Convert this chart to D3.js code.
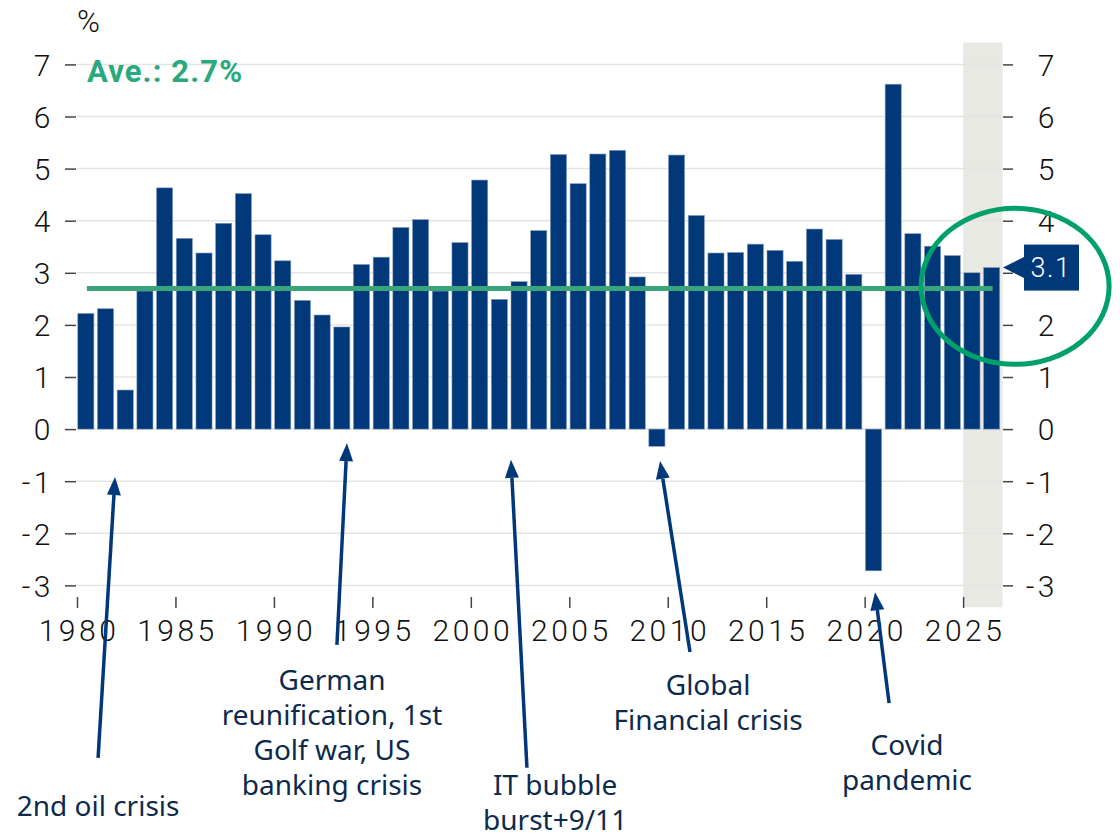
<!DOCTYPE html>
<html>
<head>
<meta charset="utf-8">
<script src="https://cdn.jsdelivr.net/npm/d3@7"></script>
<style>
    body { margin: 0; background: #fff; }
    svg { display: block; }
    .tick text { font-family: Roboto, sans-serif; font-weight: 300; font-size: 30px; fill: #111; letter-spacing: 3.5px; }
    .note { font-family: "Noto Sans", sans-serif; font-size: 28px; fill: #0d2a4d; }
</style>
</head>
<body>
<svg class="chart"></svg>
<script>
// GDP growth, % y/y (2025-2026 forecast)
const years = d3.range(1980, 2027);
const growth = [
    2.22, 2.31, 0.75, 2.65, 4.63, 3.66, 3.38, 3.95, 4.52, 3.73,
    3.23, 2.47, 2.19, 1.96, 3.16, 3.30, 3.87, 4.02, 2.65, 3.58,
    4.78, 2.49, 2.83, 3.81, 5.27, 4.71, 5.28, 5.35, 2.92, -0.33,
    5.26, 4.10, 3.38, 3.39, 3.55, 3.43, 3.22, 3.84, 3.64, 2.97,
    -2.72, 6.62, 3.75, 3.51, 3.33, 3.00, 3.10
];
const average = 2.7;
const yTicks = [-3, -2, -1, 0, 1, 2, 3, 4, 5, 6, 7];
const xTicks = [1980, 1985, 1990, 1995, 2000, 2005, 2010, 2015, 2020, 2025];
const forecastStart = 2025;

// events: arrow tip / foot in (year, value) units, text centre year
const notes = [
    {lines: ["2nd oil crisis"], tip: [1981.93, -0.92], foot: [1981.07, -6.31], at: 1981.07, top: 816},
    {lines: ["German", "reunification, 1st", "Golf war, US", "banking crisis"], tip: [1993.71, -0.27], foot: [1993.2, -4.14], at: 1992.95, top: 690},
    {lines: ["IT bubble", "burst+9/11"], tip: [2002.04, -0.59], foot: [2002.85, -6.5], at: 2004.28, top: 795},
    {lines: ["Global", "Financial crisis"], tip: [2009.61, -0.61], foot: [2011.13, -4.28], at: 2012.05, top: 695},
    {lines: ["Covid", "pandemic"], tip: [2020.53, -3.13], foot: [2021.24, -5.26], at: 2022.15, top: 755}
];

const data = years.map(function(d, i) { return {year: d, value: growth[i]}; });

let width = 1120,
    height = 836,
    navy = "#00387a",
    green = "#3aa57a";

let x = d3.scaleLinear().domain([1980, 2027]).range([77, 1002.5]);
let y = d3.scaleLinear().domain([-3, 7]).range([585.4, 64.4]);
let step = x(1981) - x(1980);

let chart = d3.select(".chart")
    .attr("width", width)
    .attr("height", height);

// forecast band
chart.append("rect")
    .attr("x", x(forecastStart))
    .attr("y", y(7.42))
    .attr("width", x(2027) - x(forecastStart))
    .attr("height", y(-3.42) - y(7.42))
    .attr("fill", "#e9e9e4");

// grid
chart.append("g")
    .selectAll("line")
    .data(yTicks)
    .enter().append("line")
    .attr("x1", x(1980))
    .attr("x2", x(2027))
    .attr("y1", function(d) { return y(d); })
    .attr("y2", function(d) { return y(d); })
    .attr("stroke", "#e4e4e4")
    .attr("stroke-width", 1.5);

// axes
let plain = function(d) { return String(d); };
let left = chart.append("g")
    .attr("transform", "translate(76,0)")
    .call(d3.axisLeft(y).tickValues(yTicks).tickFormat(plain).tickSize(11).tickPadding(11));
let right = chart.append("g")
    .attr("transform", "translate(1003,0)")
    .call(d3.axisRight(y).tickValues(yTicks).tickFormat(plain).tickSize(10).tickPadding(12));
right.selectAll("text").attr("text-anchor", "end").attr("x", 55);
let bottom = chart.append("g")
    .attr("transform", "translate(0,597)")
    .call(d3.axisBottom(x).tickValues(xTicks).tickFormat(plain).tickSize(11).tickPadding(12));
[left, right, bottom].forEach(function(g) {
    g.select(".domain").remove();
    g.selectAll(".tick line").attr("stroke", "#444").attr("stroke-width", 1.5);
});
[left, right].forEach(function(g) {
    g.selectAll(".tick text").attr("dy", "0.36em");
});
bottom.selectAll(".tick text").attr("dx", "1.5");

// bars
chart.append("g")
    .selectAll("rect")
    .data(data)
    .enter().append("rect")
    .attr("x", function(d) { return x(d.year) + 0.8; })
    .attr("width", step - 3.6)
    .attr("y", function(d) { return y(Math.max(0, d.value)); })
    .attr("height", function(d) { return Math.abs(y(d.value) - y(0)); })
    .attr("fill", navy)
    .attr("stroke", "#7f98bb")
    .attr("stroke-width", 0.6);

// average line
chart.append("line")
    .attr("x1", x(1980.5))
    .attr("x2", x(2026.5))
    .attr("y1", y(average))
    .attr("y2", y(average))
    .attr("stroke", green)
    .attr("stroke-width", 5);

chart.append("text")
    .attr("x", 87)
    .attr("y", 82)
    .attr("font-family", "Roboto, sans-serif")
    .attr("font-weight", 700)
    .attr("font-size", 31)
    .attr("letter-spacing", 1.1)
    .attr("fill", "#2aa87e")
    .text("Ave.: " + average + "%");

chart.append("text")
    .attr("x", 77)
    .attr("y", 32)
    .attr("font-family", "Roboto, sans-serif")
    .attr("font-weight", 300)
    .attr("font-size", 31)
    .attr("fill", "#111")
    .text("%");

// last value callout (covers the right-hand "3" label, as in the original)
let last = data[data.length - 1];
let ly = y(last.value);
right.selectAll(".tick text").filter(function(d) { return d === 3; }).remove();
chart.append("path")
    .attr("d", "M" + (x(2027) + 0.5) + "," + ly + "L1025," + (ly - 11) + "L1025," + (ly + 11) + "Z")
    .attr("fill", navy);
chart.append("rect")
    .attr("x", 1024)
    .attr("y", ly - 23)
    .attr("width", 55)
    .attr("height", 46)
    .attr("fill", navy);
chart.append("text")
    .attr("x", 1051)
    .attr("y", ly)
    .attr("dy", "0.36em")
    .attr("text-anchor", "middle")
    .attr("font-family", "Roboto, sans-serif")
    .attr("font-weight", 300)
    .attr("font-size", 27)
    .attr("letter-spacing", 1.5)
    .attr("fill", "#fff")
    .text(last.value.toFixed(1));

// highlight ring
chart.append("ellipse")
    .attr("cx", x(2027.64))
    .attr("cy", y(2.74))
    .attr("rx", 94)
    .attr("ry", 78)
    .attr("fill", "none")
    .attr("stroke", "#00a06a")
    .attr("stroke-width", 5);

// event arrows
let arrows = chart.append("g");
notes.forEach(function(n) {
    let x1 = x(n.foot[0]), y1 = y(n.foot[1]),
        x2 = x(n.tip[0]), y2 = y(n.tip[1]);
    let a = Math.atan2(y2 - y1, x2 - x1),
        len = 18, half = 7;
    let bx = x2 - len * Math.cos(a), by = y2 - len * Math.sin(a);
    arrows.append("line")
        .attr("x1", x1).attr("y1", y1)
        .attr("x2", bx).attr("y2", by)
        .attr("stroke", navy)
        .attr("stroke-width", 3.5);
    arrows.append("path")
        .attr("d", "M" + x2 + "," + y2 +
            "L" + (bx + half * Math.sin(a)) + "," + (by - half * Math.cos(a)) +
            "L" + (bx - half * Math.sin(a)) + "," + (by + half * Math.cos(a)) + "Z")
        .attr("fill", navy);
    let t = chart.append("text")
        .classed("note", true)
        .attr("text-anchor", "middle");
    n.lines.forEach(function(line, i) {
        t.append("tspan")
            .attr("x", x(n.at))
            .attr("y", n.top + i * 35)
            .text(line);
    });
});
</script>
</body>
</html>
